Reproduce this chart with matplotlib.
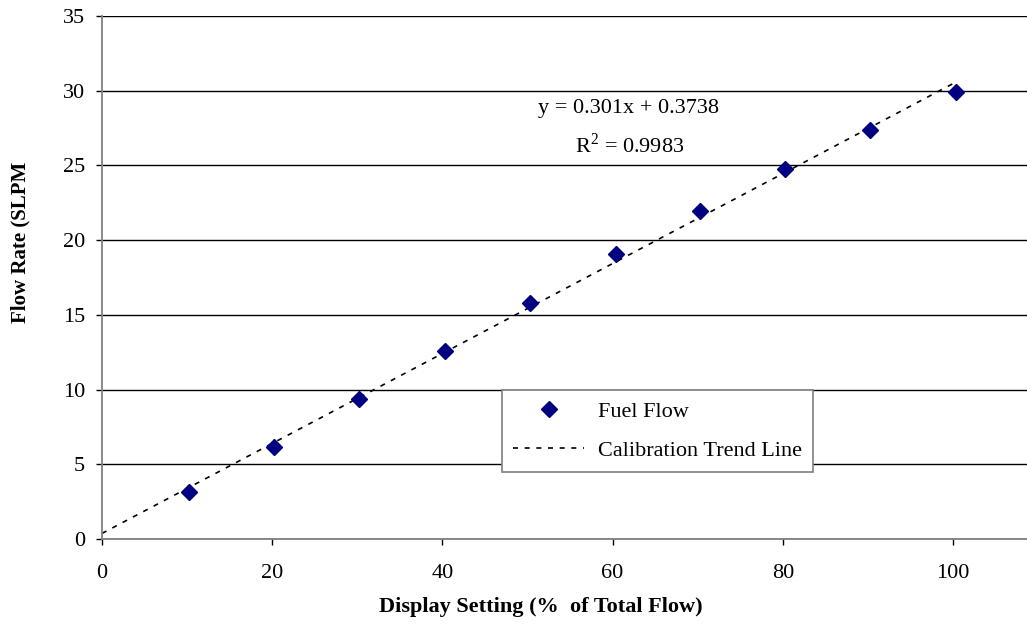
import matplotlib
matplotlib.use("Agg")
import matplotlib.pyplot as plt
import numpy as np

# fuel flow calibration readings
setting = [10.2, 20.2, 30.2, 40.3, 50.3, 60.4, 70.3, 80.3, 90.3, 100.4]
flow = [3.12, 6.14, 9.40, 12.55, 15.80, 19.08, 21.97, 24.75, 27.38, 29.90]
slope = 0.301
intercept = 0.3738
r2 = 0.9983
xticks = [0, 20, 40, 60, 80, 100]
yticks = [0, 5, 10, 15, 20, 25, 30, 35]

plt.rcParams["font.family"] = ["Liberation Serif", "DejaVu Serif"]
plt.rcParams["mathtext.fontset"] = "custom"
plt.rcParams["mathtext.rm"] = "Liberation Serif"

W, H = 1027, 628
fig = plt.figure(figsize=(W / 100, H / 100), dpi=100)
ax = fig.add_axes([102 / W, (H - 539) / H, 110 * 8.51 / W, 523 / H])

ax.set_xlim(0, 110)
ax.set_ylim(0, 35)
ax.set_xticks(xticks)
ax.set_yticks(yticks)
ax.tick_params(labelsize=16, direction="out", length=4.3, width=1, colors="black")
ax.tick_params(axis="x", pad=14)
ax.tick_params(axis="y", pad=8)
for s in ["top", "right"]:
    ax.spines[s].set_visible(False)
for s in ["left", "bottom"]:
    ax.spines[s].set_color("#808080")
    ax.spines[s].set_linewidth(1.3)
ax.yaxis.grid(True, color="black", linewidth=1)
ax.set_axisbelow(True)

sc = ax.plot(setting, flow, linestyle="none", marker="D", markersize=8,
             color="#000080", label="Fuel Flow", zorder=3)
xt = np.array([0, max(setting)])
tl = ax.plot(xt, slope * xt + intercept, color="black", linewidth=1.2,
             linestyle=(0, (3, 4)), label="Calibration Trend Line", zorder=2)

fig.text(628 / W, 1 - 108 / H, "y = 0.301x + 0.3738", fontsize=16,
         ha="center", va="center")
fig.text(630 / W, 1 - 145 / H, "R$^2$ = 0.9983", fontsize=16,
         ha="center", va="center")

lines = sc + tl
lgd = fig.legend(lines, [l.get_label() for l in lines], loc="upper left",
                 bbox_to_anchor=(502 / W, 1 - 390 / H), borderaxespad=0,
                 fontsize=16, fancybox=False, framealpha=1, handlelength=3.2,
                 handletextpad=0.6, labelspacing=0.85, borderpad=0.5)
frame = lgd.get_frame()
frame.set_edgecolor("#808080")
frame.set_linewidth(1.2)

fig.text(541 / W, 1 - 607 / H, "Display Setting (%  of Total Flow)",
         fontsize=16, fontweight="bold", ha="center", va="center")
fig.text(20 / W, 1 - 242 / H, "Flow Rate (SLPM", fontsize=15,
         fontweight="bold", ha="center", va="center", rotation=90)

plt.savefig("out.png", dpi=100)
